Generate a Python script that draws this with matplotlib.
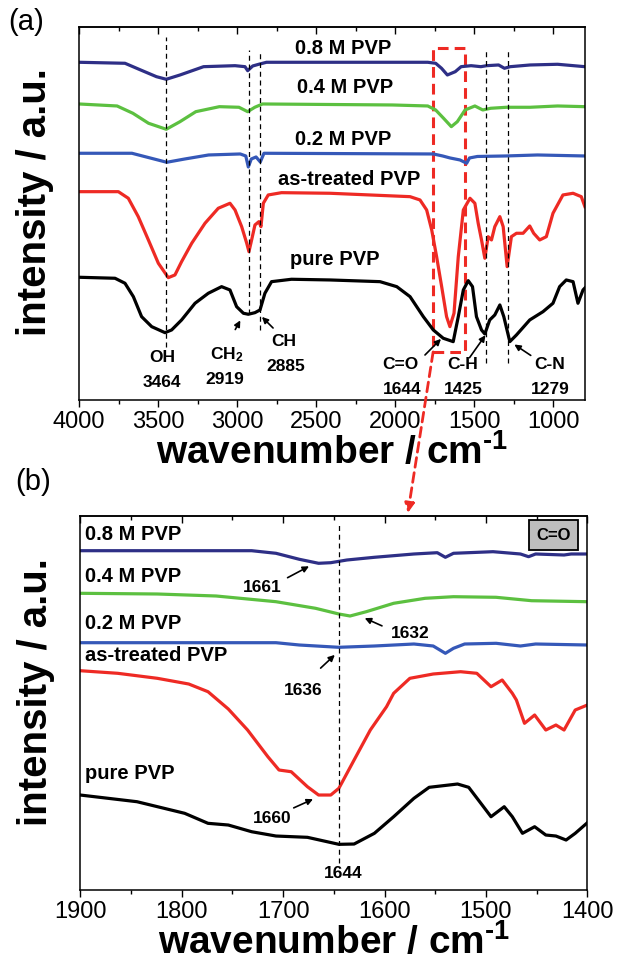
import matplotlib
matplotlib.use('Agg')
import matplotlib.pyplot as plt
from matplotlib.patches import Rectangle, ConnectionPatch
from matplotlib.ticker import MultipleLocator

plt.rcParams['font.family'] = ['Liberation Sans', 'DejaVu Sans']
plt.rcParams['mathtext.fontset'] = 'custom'
plt.rcParams['mathtext.rm'] = 'Liberation Sans:bold'
plt.rcParams['mathtext.bf'] = 'Liberation Sans:bold'
plt.rcParams['mathtext.it'] = 'Liberation Sans:bold'

# ---- (a) full spectra, wavenumber (cm-1) / intensity (a.u., offset) ----
a08_wn = [4000, 3709, 3610, 3510, 3448, 3361, 3212, 3013, 2950, 2933, 2901, 2863, 2814,
          1794, 1744, 1707, 1670, 1620, 1583, 1520, 1458, 1421, 1346, 1309, 1272, 1147, 973, 800]
a08_int = [337.7, 336.7, 330, 323.3, 320.7, 325, 333.3, 334.3, 333.3, 329.3, 334, 335.7, 337.7,
           337.7, 336.7, 331.7, 325, 328.3, 333.3, 334.3, 333.3, 334.3, 335, 331.7, 333.3, 335, 335.7, 333.3]

a04_wn = [4000, 3759, 3659, 3560, 3448, 3361, 3261, 3112, 2988, 2933, 2888, 2839, 2018,
          1794, 1744, 1694, 1645, 1607, 1558, 1496, 1446, 1396, 1297, 1147, 973, 800]
a04_int = [296, 294, 286.7, 276.7, 270.7, 278.3, 288.3, 293.3, 292.7, 288.3, 292.7, 296, 295,
           294, 290, 281.7, 273.3, 278.3, 290, 294, 290, 291.7, 292.7, 292.7, 294, 293.3]

a02_wn = [4000, 3665, 3550, 3445, 3330, 3180, 2980, 2945, 2929, 2910, 2880, 2853, 2830,
          1759, 1700, 1653, 1590, 1548, 1530, 1480, 1300, 1100, 800]
a02_int = [246.7, 246.7, 242, 237.7, 241, 245, 246, 244, 233, 241, 243, 238, 246.7,
           246, 244, 242, 240, 236.7, 242, 243.5, 244, 245, 244]

a_tr_wn = [4000, 3751, 3688, 3625, 3561, 3498, 3435, 3393, 3351, 3287, 3203, 3119, 3045, 3013,
           2971, 2939, 2925, 2908, 2887, 2862, 2849, 2834, 2803, 2719, 2412, 1906, 1843, 1801,
           1769, 1738, 1706, 1675, 1654, 1628, 1601, 1569, 1527, 1496, 1475, 1454, 1433, 1412,
           1391, 1370, 1338, 1317, 1292, 1265, 1233, 1191, 1149, 1124, 1086, 1044, 1002, 939,
           875, 823, 800]
a_tr_int = [208.3, 208.3, 201.7, 183.3, 160, 136.7, 122.3, 125, 138.3, 156.7, 176.7, 191.7, 196.7, 190,
            173.3, 156.7, 148.3, 160, 175, 178.3, 173.3, 196.7, 205, 207.3, 206.7, 203.3, 200, 190,
            170, 143.3, 113.3, 83.3, 73.3, 86.7, 143.3, 190, 201.7, 196.7, 176.7, 160, 141.7, 163.3,
            160, 173.3, 183.3, 173.3, 133.3, 163.3, 166.7, 166.7, 174, 166.7, 160, 163.3, 186.7, 205,
            206.7, 203.3, 193.3]

a_pure_wn = [4000, 3772, 3709, 3656, 3604, 3540, 3456, 3414, 3351, 3266, 3182, 3098, 3045, 3003,
             2960, 2929, 2887, 2855, 2824, 2782, 2656, 2412, 2096, 1990, 1906, 1822, 1759, 1696,
             1633, 1601, 1569, 1538, 1511, 1486, 1454, 1433, 1402, 1370, 1338, 1313, 1275, 1233,
             1149, 1065, 1002, 960, 918, 875, 844, 812, 800]
a_pure_int = [122.7, 121.7, 116.7, 103.3, 83.3, 73.3, 67.3, 70, 80, 96.7, 106.7, 113.3, 110, 93.3,
              86.7, 85.7, 87.3, 90, 106.7, 118.3, 120.7, 120, 118.3, 113.3, 103.3, 83.3, 70, 61.7,
              58.3, 83.3, 110, 119.3, 113.3, 83.3, 70, 66, 80, 85, 95, 83.3, 58.3, 65,
              80, 88.3, 96.7, 113.3, 120, 118.3, 96.7, 110, 112]

a_peak_wn = [3450, 2925, 2855, 1425, 1285]
a_peak_top = [363, 350, 350, 350, 350]
a_peak_bot = [53, 86, 70, 37, 37]
a_peak_names = ['OH', 'CH$_2$', 'CH', 'C=O', 'C-H', 'C-N']
a_peak_values = ['3464', '2919', '2885', '1644', '1425', '1279']

# ---- (b) C=O region ----
b08_wn = [1900, 1731, 1707, 1684, 1665, 1653, 1637, 1610, 1571, 1548, 1540, 1532, 1493,
          1466, 1458, 1451, 1423, 1416, 1400]
b08_int = [339.3, 339.3, 336.7, 330.7, 326.7, 327.3, 330, 332.7, 336, 337.3, 332.7, 336.7, 338.3,
           336, 333.3, 336, 335, 336, 336]

b04_wn = [1900, 1824, 1766, 1707, 1668, 1645, 1634, 1618, 1591, 1560, 1532, 1490, 1455, 1400]
b04_int = [296.7, 296, 294, 288.3, 281.7, 276, 274, 278.3, 286.7, 291.7, 293.3, 292.7, 289.3, 288.3]

b02_wn = [1900, 1707, 1684, 1645, 1610, 1571, 1552, 1540, 1532, 1521, 1490, 1466, 1451, 1400]
b02_int = [247.3, 247.3, 245, 242.7, 244, 246, 244, 236.7, 241.7, 246, 246.7, 244, 246, 245]

b_tr_wn = [1900, 1863, 1824, 1793, 1774, 1754, 1735, 1715, 1704, 1692, 1676, 1665, 1653, 1645,
           1630, 1614, 1598, 1591, 1575, 1552, 1525, 1509, 1495, 1484, 1474, 1470, 1462, 1452,
           1441, 1431, 1423, 1412, 1400]
b_tr_int = [219.3, 216.7, 211.7, 206, 198.3, 181, 160, 133.3, 120, 118.3, 103.3, 95, 95, 101.7,
            130, 160, 183.3, 196.7, 211.7, 216, 218.3, 216.7, 203.3, 210, 196.7, 190, 166.7, 175,
            160, 165, 160, 180, 185]

b_pure_wn = [1900, 1844, 1797, 1774, 1754, 1731, 1707, 1676, 1645, 1630, 1610, 1591, 1571, 1556,
             1528, 1517, 1505, 1495, 1482, 1474, 1464, 1452, 1441, 1431, 1421, 1412, 1400]
b_pure_int = [95, 88.3, 76.7, 66.7, 65, 58.3, 54, 52.7, 45.7, 46, 56.7, 73.3, 91.7, 102.7,
              106, 102.7, 86.7, 73.3, 83.3, 73.3, 56.7, 63.3, 55, 54, 50, 56.7, 67.3]

b_peak_wn = 1645
b_shift_values = ['1661', '1632', '1636', '1660', '1644']

navy = '#2E2F86'
green = '#5CC040'
blue = '#3558B8'
red = '#EE2A24'
black = '#000000'

fig = plt.figure(figsize=(6.17, 9.67), dpi=100)
ax1 = fig.add_axes([0.128, 0.5864, 0.820, 0.3857])
ax2 = fig.add_axes([0.130, 0.0796, 0.822, 0.3868])

lw = 2.3


def style(ax, major, minor):
    ax.tick_params(axis='y', left=False, right=False, labelleft=False)
    ax.tick_params(axis='x', which='both', top=False, direction='out', labelsize=17, pad=3)
    ax.tick_params(axis='x', which='major', length=5, width=1)
    ax.tick_params(axis='x', which='minor', length=3, width=1)
    ax.xaxis.set_major_locator(MultipleLocator(major))
    ax.xaxis.set_minor_locator(MultipleLocator(minor))
    top = ax.secondary_xaxis('top')
    top.xaxis.set_major_locator(MultipleLocator(major))
    top.xaxis.set_minor_locator(MultipleLocator(minor))
    top.tick_params(axis='x', which='both', direction='in', labeltop=False, width=1)
    top.tick_params(axis='x', which='major', length=5)
    top.tick_params(axis='x', which='minor', length=3)
    for s in list(ax.spines.values()) + [top.spines['top']]:
        s.set_linewidth(1.1)
    ax.set_ylabel('intensity / a.u.', fontsize=29, fontweight='bold')
    ax.yaxis.set_label_coords(-0.05, 0.53)
    ax.set_xlabel('wavenumber / cm$^{\u20101}$', fontsize=28, fontweight='bold', labelpad=0)


# panel (a)
ax1.plot(a08_wn, a08_int, color=navy, lw=lw)
ax1.plot(a04_wn, a04_int, color=green, lw=lw)
ax1.plot(a02_wn, a02_int, color=blue, lw=lw)
ax1.plot(a_tr_wn, a_tr_int, color=red, lw=lw)
ax1.plot(a_pure_wn, a_pure_int, color=black, lw=lw)
ax1.vlines(a_peak_wn, a_peak_bot, a_peak_top, colors='k', linestyles=(0, (4, 3)), lw=0.9)
ax1.set_xlim(4000, 800)
ax1.set_ylim(0, 373)
style(ax1, 500, 250)

lab = dict(fontsize=14.5, fontweight='bold', ha='center', va='center')
ax1.text(2330, 351, '0.8 M PVP', **lab)
ax1.text(2317, 312, '0.4 M PVP', **lab)
ax1.text(2330, 260, '0.2 M PVP', **lab)
ax1.text(2292, 220, 'as-treated PVP', **lab)
ax1.text(2381, 140, 'pure PVP', **lab)

ann = dict(fontsize=12.5, fontweight='bold', ha='center', va='center')
name_pos = [(3475, 42), (3066, 45), (2705, 58), (1970, 35), (1571, 35), (1021, 35)]
val_pos = [(3475, 17), (3079, 20), (2692, 33), (1957, 10), (1571, 10), (1021, 10)]
for nm, (x, y) in zip(a_peak_names, name_pos):
    ax1.text(x, y, nm, **ann)
for vl, (x, y) in zip(a_peak_values, val_pos):
    ax1.text(x, y, vl, **ann)

arrow_tips = [(2971, 82), (2855, 85), (1698, 63), (1419, 67), (1261, 57)]
arrow_tails = [(3020, 68), (2760, 70), (1824, 43), (1540, 40), (1128, 43)]
for tip, tail in zip(arrow_tips, arrow_tails):
    ax1.annotate('', xy=tip, xytext=tail,
                 arrowprops=dict(arrowstyle='-|>', color='k', lw=1.2, mutation_scale=9))

ax1.add_patch(Rectangle((1760, 48), -200, 304, fill=False, edgecolor=red, lw=2.2,
                        linestyle=(0, (3.5, 2))))

# panel (b)
ax2.plot(b08_wn, b08_int, color=navy, lw=lw)
ax2.plot(b04_wn, b04_int, color=green, lw=lw)
ax2.plot(b02_wn, b02_int, color=blue, lw=lw)
ax2.plot(b_tr_wn, b_tr_int, color=red, lw=lw)
ax2.plot(b_pure_wn, b_pure_int, color=black, lw=lw)
ax2.vlines(b_peak_wn, 27, 365, colors='k', linestyles=(0, (4, 3)), lw=0.9)
ax2.set_xlim(1900, 1400)
ax2.set_ylim(0, 374)
style(ax2, 100, 50)

labl = dict(fontsize=14.5, fontweight='bold', ha='left', va='center')
ax2.text(1895, 355, '0.8 M PVP', **labl)
ax2.text(1895, 313, '0.4 M PVP', **labl)
ax2.text(1895, 267, '0.2 M PVP', **labl)
ax2.text(1895, 235, 'as-treated PVP', **labl)
ax2.text(1895, 117, 'pure PVP', **labl)

b_txt_pos = [(1721, 302), (1575, 257), (1680, 200), (1711, 72), (1641, 17)]
for vl, (x, y) in zip(b_shift_values, b_txt_pos):
    ax2.text(x, y, vl, **ann)
b_tips = [(1672, 325), (1622, 273), (1647, 237), (1668, 92)]
b_tails = [(1698, 311), (1600, 263), (1665, 220), (1692, 81)]
for tip, tail in zip(b_tips, b_tails):
    ax2.annotate('', xy=tip, xytext=tail,
                 arrowprops=dict(arrowstyle='-|>', color='k', lw=1.2, mutation_scale=9))

ax2.text(0.933, 0.949, 'C=O', transform=ax2.transAxes, fontsize=12, fontweight='bold',
         ha='center', va='center',
         bbox=dict(boxstyle='square,pad=0.45', facecolor='#BEBEBE', edgecolor='k', lw=1.3))

con = ConnectionPatch(xyA=(1760, 48), coordsA=ax1.transData,
                      xyB=(1577, 1.008), coordsB=ax2.get_xaxis_transform(),
                      arrowstyle='-|>', color=red, lw=2, linestyle=(0, (3.5, 2)),
                      mutation_scale=14)
fig.add_artist(con)

fig.text(0.043, 0.977, '(a)', fontsize=21, ha='center', va='center')
fig.text(0.053, 0.502, '(b)', fontsize=21, ha='center', va='center')

fig.savefig('out.png', dpi=100)
